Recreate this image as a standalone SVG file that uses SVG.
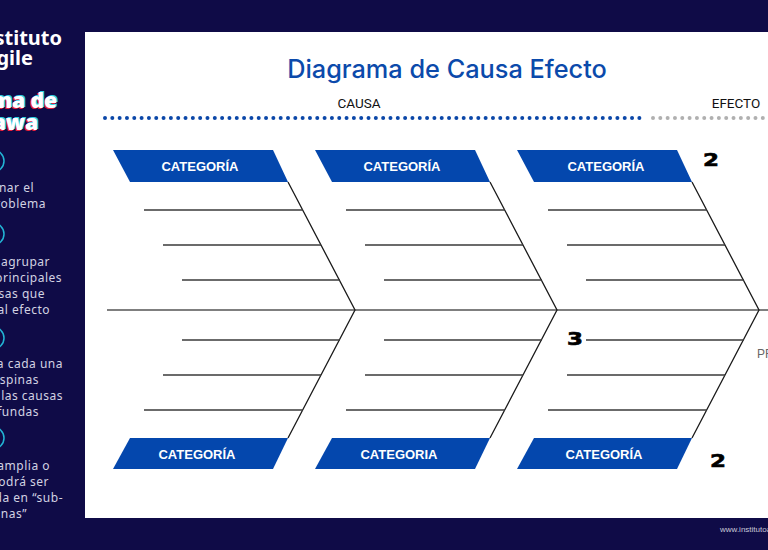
<svg xmlns="http://www.w3.org/2000/svg" width="768" height="550" viewBox="0 0 768 550">
<style>
.side{font-family:"Noto Sans","Liberation Sans",sans-serif;font-size:12px;fill:#d2d2e2;letter-spacing:0.5px}
.brand{font-family:"Noto Sans","Liberation Sans",sans-serif;font-size:20px;font-weight:700;fill:#ffffff}
.glitch{font-family:"Noto Sans","Liberation Sans",sans-serif;font-size:21px;font-weight:900}
.ring{fill:none;stroke:#22b5d6;stroke-width:1.5}
.banner{fill:#0447ad}
.btxt{font-family:"Liberation Sans","Arial",sans-serif;font-size:13px;font-weight:700;fill:#ffffff;text-anchor:middle}
.rib{stroke:#3a3a3a;stroke-width:1.5;fill:none}
.bone{stroke:#1a1a1a;stroke-width:1.3;fill:none}
.spine{stroke:#555555;stroke-width:1.6;fill:none}
.lbl{font-family:"Roboto","Liberation Sans",sans-serif;font-size:13.5px;fill:#111111;text-anchor:middle}
.num{font-family:"DejaVu Sans",sans-serif;font-size:17px;font-weight:900;fill:#000000;stroke:#000000;stroke-width:0.6}
</style>
<rect x="0" y="0" width="768" height="550" fill="#0f0b47"/>
<rect x="85" y="32" width="683" height="486" fill="#ffffff"/>

<g id="sidebar">
  <text class="brand" x="62" y="45" text-anchor="end">Instituto</text>
  <text class="brand" x="33" y="65" text-anchor="end">Agile</text>
  <g class="glitch" text-anchor="end">
    <text x="55.5" y="109" fill="#e8203a">Diagrama de</text>
    <text x="58.5" y="107" fill="#2fd0e6">Diagrama de</text>
    <text x="57" y="108" fill="#ffffff">Diagrama de</text>
    <text x="36.5" y="131" fill="#e8203a">Ishikawa</text>
    <text x="39.5" y="129" fill="#2fd0e6">Ishikawa</text>
    <text x="38" y="130" fill="#ffffff">Ishikawa</text>
  </g>
  <circle class="ring" cx="-7" cy="161" r="11"/>
  <circle class="ring" cx="-7" cy="234" r="11"/>
  <circle class="ring" cx="-7" cy="338" r="11"/>
  <circle class="ring" cx="-7" cy="438" r="11"/>
  <g class="side" text-anchor="end">
    <text x="34" y="192">Seleccionar el</text>
    <text x="46" y="208">problema</text>
    <text x="50" y="266">Identificar y agrupar</text>
    <text x="62" y="282">las principales</text>
    <text x="45" y="298">causas que</text>
    <text x="50" y="314">afectan al efecto</text>
    <text x="63" y="368">Para cada una</text>
    <text x="39" y="384">de las espinas</text>
    <text x="63" y="400">identificar las causas</text>
    <text x="39" y="416">más profundas</text>
    <text x="50" y="470">Si es muy amplia o</text>
    <text x="49" y="486">compleja podrá ser</text>
    <text x="63" y="502">dividida en “sub-</text>
    <text x="27" y="518">espinas”</text>
  </g>
</g>

<g id="header">
  <text x="447" y="78" text-anchor="middle" font-family="Inter,'Noto Sans',sans-serif" font-size="25.3" font-weight="500" fill="#0b4aab">Diagrama de Causa Efecto</text>
  <text class="lbl" x="359" y="108">CAUSA</text>
  <text class="lbl" x="736" y="108">EFECTO</text>
  <line x1="105" y1="118" x2="646" y2="118" stroke="#0b47a8" stroke-width="4" stroke-linecap="round" stroke-dasharray="0 7.32"/>
  <line x1="653" y1="118" x2="768" y2="118" stroke="#b0b0b0" stroke-width="4" stroke-linecap="round" stroke-dasharray="0 7.32"/>
</g>

<g id="connectors">
  <line class="spine" x1="107" y1="310" x2="768" y2="310"/>
  <polyline class="bone" points="288,182 355,310 288,438"/>
  <polyline class="bone" points="490,182 557,310 490,438"/>
  <polyline class="bone" points="692,182 759,310 692,438"/>
  <g class="rib">
    <line x1="144" y1="210" x2="303" y2="210"/>
    <line x1="163" y1="245" x2="321" y2="245"/>
    <line x1="182" y1="280" x2="340" y2="280"/>
    <line x1="182" y1="340" x2="340" y2="340"/>
    <line x1="163" y1="375" x2="321" y2="375"/>
    <line x1="144" y1="410" x2="303" y2="410"/>
    <line x1="346" y1="210" x2="505" y2="210"/>
    <line x1="365" y1="245" x2="523" y2="245"/>
    <line x1="384" y1="280" x2="542" y2="280"/>
    <line x1="384" y1="340" x2="542" y2="340"/>
    <line x1="365" y1="375" x2="523" y2="375"/>
    <line x1="346" y1="410" x2="505" y2="410"/>
    <line x1="548" y1="210" x2="707" y2="210"/>
    <line x1="567" y1="245" x2="725" y2="245"/>
    <line x1="586" y1="280" x2="744" y2="280"/>
    <line x1="586" y1="340" x2="744" y2="340"/>
    <line x1="567" y1="375" x2="725" y2="375"/>
    <line x1="548" y1="410" x2="707" y2="410"/>
  </g>
</g>

<g id="cat-top-1"><polygon class="banner" points="113,150 273,150 288,182 130,182"/><text class="btxt" x="200" y="171">CATEGORÍA</text></g>
<g id="cat-top-2"><polygon class="banner" points="315,150 475,150 490,182 332,182"/><text class="btxt" x="402" y="171">CATEGORÍA</text></g>
<g id="cat-top-3"><polygon class="banner" points="517,150 677,150 692,182 534,182"/><text class="btxt" x="606" y="171">CATEGORÍA</text></g>
<g id="cat-bot-1"><polygon class="banner" points="130,438 288,438 273,469 113,469"/><text class="btxt" x="197" y="459">CATEGORÍA</text></g>
<g id="cat-bot-2"><polygon class="banner" points="332,438 490,438 475,469 315,469"/><text class="btxt" x="399" y="459">CATEGORIA</text></g>
<g id="cat-bot-3"><polygon class="banner" points="534,438 692,438 677,469 517,469"/><text class="btxt" x="604" y="459">CATEGORÍA</text></g>

<g id="numbers">
  <text class="num" x="703" y="166" textLength="16" lengthAdjust="spacingAndGlyphs">2</text>
  <text class="num" x="567" y="345" textLength="16" lengthAdjust="spacingAndGlyphs">3</text>
  <text class="num" x="710" y="467" textLength="16" lengthAdjust="spacingAndGlyphs">2</text>
</g>

<g id="problem">
  <text x="757" y="358" font-family="'Liberation Sans',Arial,sans-serif" font-size="12" fill="#666666">PROBLEMA</text>
</g>

<text x="720" y="532" font-family="'Liberation Sans',Arial,sans-serif" font-size="8" fill="#c8c8d8">www.institutoagile.com</text>
</svg>
